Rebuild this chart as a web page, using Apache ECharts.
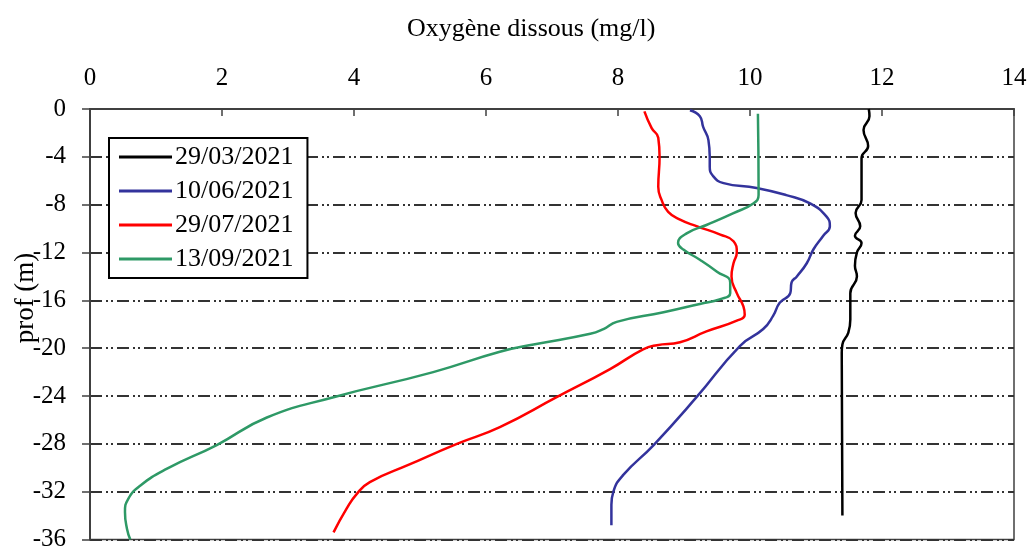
<!DOCTYPE html>
<html>
<head>
<meta charset="utf-8">
<title>Oxygène dissous</title>
<script src="https://cdn.jsdelivr.net/npm/echarts@6/dist/echarts.min.js"></script>
<style>
  html, body { margin: 0; padding: 0; background: #fff; }
  #chart { width: 1030px; height: 552px; }
</style>
</head>
<body>
<div id="chart"></div>
<script>
// profils d'oxygène dissous (mg/l) en fonction de la profondeur (m)
var dates = ['29/03/2021', '10/06/2021', '29/07/2021', '13/09/2021']
var colors = ['#000000', '#33339c', '#ff0000', '#2e9966']
var xTicks = [0, 14, 2]
var yTicks = [-36, 0, 4]

// 29/03/2021
var depthMar = [0, -0.6, -1.75, -3.1, -4.1, -7.6, -8.7, -9.8, -10.6, -11.2, -12.0, -13.1, -14.0, -15.4, -17.6, -18.7, -19.7, -20.4, -34.0]
var oxyMar = [11.80, 11.81, 11.72, 11.79, 11.69, 11.69, 11.60, 11.67, 11.59, 11.69, 11.62, 11.59, 11.62, 11.52, 11.52, 11.49, 11.40, 11.39, 11.40]

// 10/06/2021
var depthJun = [-0.1, -0.6, -1.5, -2.6, -4.0, -4.8, -5.6, -6.2, -6.6, -7.2, -7.9, -9.0, -9.8, -10.6, -11.75, -12.9, -14.0, -14.5, -15.4, -16.2, -17.3, -18.4, -19.8, -24.1, -28.1, -30.6, -32.0, -33.1, -34.8]
var oxyJun = [9.09, 9.24, 9.29, 9.37, 9.39, 9.39, 9.44, 9.60, 10.10, 10.55, 10.91, 11.16, 11.21, 11.11, 10.96, 10.86, 10.71, 10.63, 10.61, 10.45, 10.35, 10.20, 9.85, 9.19, 8.54, 8.08, 7.93, 7.90, 7.90]

// 29/07/2021
var depthJul = [-0.2, -1.6, -2.4, -4.0, -6.5, -7.6, -8.6, -9.25, -9.8, -10.5, -11.06, -12.0, -12.9, -14.0, -15.4, -16.5, -17.2, -17.7, -18.6, -19.5, -19.75, -20.1, -21.75, -24.1, -26.6, -28.0, -29.7, -31.2, -32.2, -33.4, -35.4]
var oxyJul = [8.40, 8.51, 8.61, 8.63, 8.61, 8.66, 8.76, 8.94, 9.19, 9.55, 9.75, 9.80, 9.75, 9.72, 9.80, 9.90, 9.92, 9.80, 9.34, 8.94, 8.59, 8.38, 7.88, 7.07, 6.21, 5.56, 4.85, 4.24, 4.04, 3.89, 3.69]

// 13/09/2021
var depthSep = [-0.4, -6.75, -7.2, -7.9, -8.7, -9.7, -10.4, -11.2, -11.75, -12.6, -13.6, -14.5, -15.4, -15.9, -16.3, -17.0, -17.8, -18.4, -18.8, -19.7, -20.3, -22.0, -24.1, -25.8, -28.1, -30.1, -31.5, -32.6, -33.7, -35.1, -36.0]
var oxySep = [10.12, 10.13, 10.13, 10.05, 9.75, 9.34, 9.04, 8.91, 8.99, 9.24, 9.50, 9.70, 9.70, 9.55, 9.24, 8.69, 7.98, 7.78, 7.58, 6.72, 6.21, 5.20, 3.69, 2.68, 1.92, 1.16, 0.76, 0.58, 0.53, 0.56, 0.61]

var depths = [depthMar, depthJun, depthJul, depthSep]
var oxys = [oxyMar, oxyJun, oxyJul, oxySep]

function pairs(xs, ys) {
  return xs.map(function (x, i) { return [x, ys[i]] })
}

var font = 'Liberation Serif'
var axisColor = '#404040'

var series = dates.map(function (name, i) {
  return {
    name: name,
    type: 'line',
    data: pairs(oxys[i], depths[i]),
    smooth: 0.5,
    symbol: 'none',
    clip: true,
    lineStyle: { color: colors[i], width: 2.5 },
    itemStyle: { color: colors[i] }
  }
})

var chart = echarts.init(document.getElementById('chart'))
chart.setOption({
  animation: false,
  backgroundColor: '#fff',
  title: {
    text: 'Oxygène dissous (mg/l)',
    left: 402,
    top: 11,
    textStyle: { fontFamily: font, fontSize: 26, fontWeight: 'normal', color: '#000' }
  },
  graphic: [{
    type: 'text',
    x: 26,
    y: 298,
    rotation: Math.PI / 2,
    style: {
      text: 'prof (m)',
      fontFamily: font,
      fontSize: 27,
      fill: '#000',
      textAlign: 'center',
      textVerticalAlign: 'middle'
    }
  }],
  legend: {
    orient: 'vertical',
    left: 109,
    top: 138,
    data: dates,
    icon: 'rect',
    itemWidth: 53,
    itemHeight: 3,
    itemGap: 8,
    padding: [6, 14, 6, 10],
    borderColor: '#000',
    borderWidth: 2,
    backgroundColor: '#fff',
    textStyle: { fontFamily: font, fontSize: 26, lineHeight: 26, color: '#000', padding: [0, 0, 0, -2] }
  },
  grid: {
    left: 90,
    top: 109,
    right: 16,
    bottom: 11,
    show: true,
    borderColor: axisColor,
    borderWidth: 1.5,
    containLabel: false
  },
  xAxis: {
    type: 'value',
    position: 'top',
    min: xTicks[0],
    max: xTicks[1],
    interval: xTicks[2],
    axisLine: { show: true, lineStyle: { color: axisColor, width: 2 } },
    axisTick: { show: true, inside: true, length: 7, lineStyle: { color: axisColor, width: 1.5 } },
    axisLabel: { fontFamily: font, fontSize: 25, color: '#000', margin: 18 },
    splitLine: { show: false }
  },
  yAxis: {
    type: 'value',
    min: yTicks[0],
    max: yTicks[1],
    interval: yTicks[2],
    axisLine: { show: true, lineStyle: { color: axisColor, width: 2 } },
    axisTick: { show: true, inside: false, length: 8, lineStyle: { color: axisColor, width: 1.5 } },
    axisLabel: { fontFamily: font, fontSize: 25, color: '#000', margin: 24 },
    splitLine: {
      show: true,
      lineStyle: { color: '#333', width: 1.8, type: [12, 4, 2, 3, 2, 4] }
    }
  },
  series: series
})
</script>
</body>
</html>
